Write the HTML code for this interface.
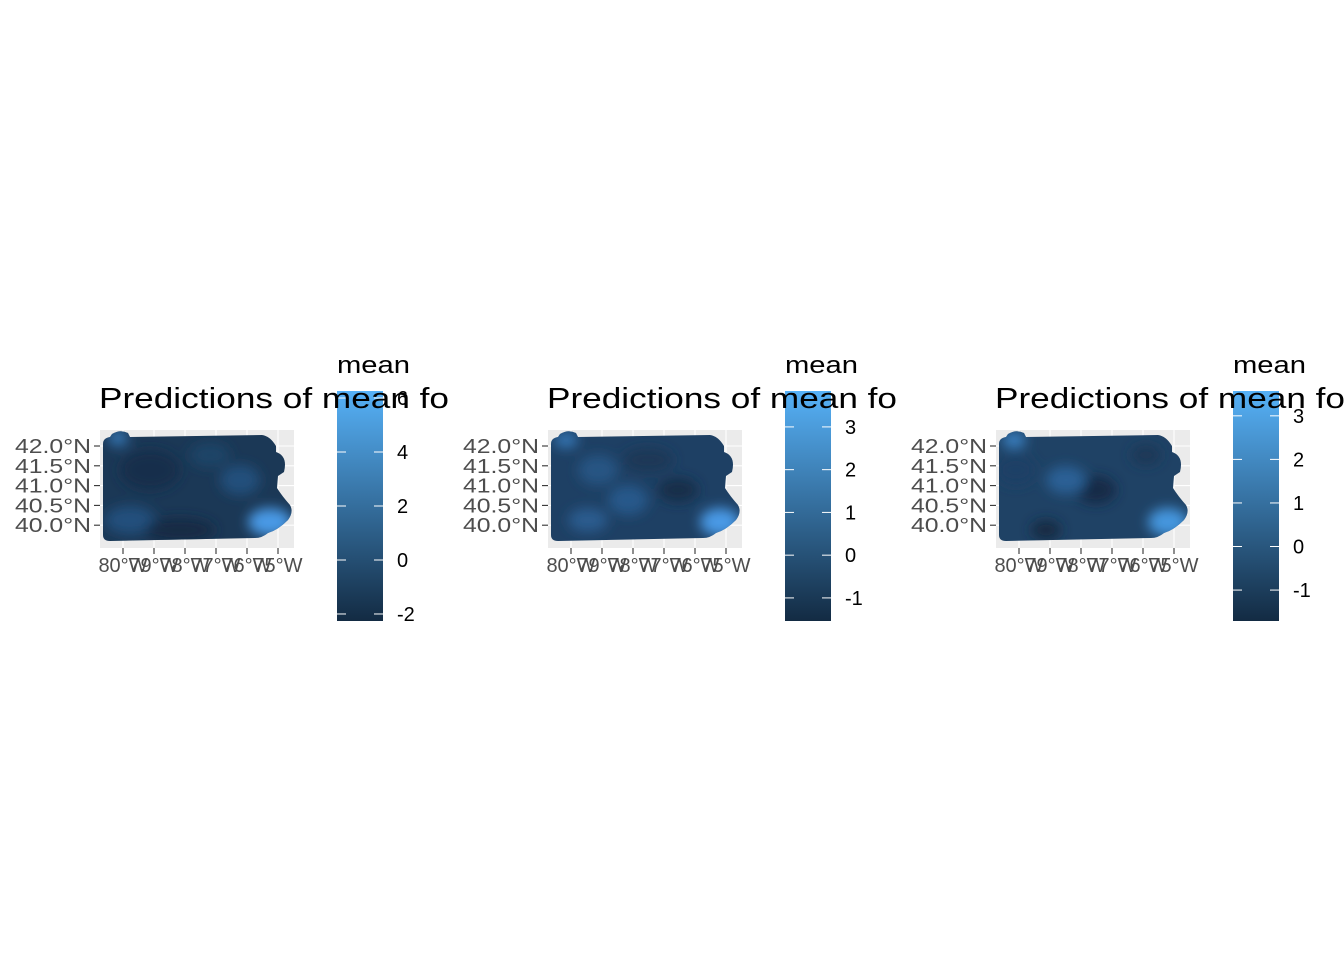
<!DOCTYPE html>
<html><head><meta charset="utf-8"><style>
body{margin:0;background:#fff;}
svg{display:block;font-family:"Liberation Sans",Arial,sans-serif;}
</style></head><body>
<svg id="c" width="1344" height="960" viewBox="0 0 1344 960">
<defs>
<linearGradient id="lg" x1="0" y1="1" x2="0" y2="0">
<stop offset="0" stop-color="#132B43"/><stop offset="1" stop-color="#56B1F7"/>
</linearGradient>
<filter id="bl" x="-20%" y="-20%" width="140%" height="140%"><feGaussianBlur stdDeviation="6"/></filter>
<clipPath id="pa"><path d="M103,444 Q103,438 110,437 L112,434 Q120,429 128,433 L130,437 L262,435 Q270,436 276,446 L276,452 Q288,456 284,472 L278,476 L277,488 Q282,496 290,505 Q294,512 288,520 Q278,530 268,533 Q262,538 255,538 L110,541 Q103,541 103,535 Z"/></clipPath>
</defs>
</svg>
<script>
const panelOffsets=[0,448,896];
const legendTicks=[[6,4,2,0,-2],[3,2,1,0,-1],[3,2,1,0,-1]];
const legendMin=[-2.26,-1.54,-1.71];
const legendMax=[6.26,3.84,3.57];
const latTicks=[42.0,41.5,41.0,40.5,40.0];
const lonTicks=[80,79,78,77,76,75];
const baseColors=['#1b3856','#1e4064','#1f4265'];
const blobs=[
 [[270,522,22,14,'#4a9ae6'],[118,438,10,8,'#3576b4'],[130,520,25,14,'#24507d'],[240,480,20,15,'#24507c'],[150,470,30,20,'#172f4b'],[180,530,35,12,'#142a44'],[210,455,20,12,'#1f4468']],
 [[272,522,20,14,'#4a9ae6'],[118,440,12,8,'#3576b4'],[180,500,20,15,'#28598a'],[230,490,20,12,'#162d48'],[140,520,20,12,'#2a5c8e'],[200,460,25,12,'#1a3756'],[150,470,20,15,'#265583']],
 [[272,522,20,14,'#4596de'],[118,440,12,8,'#3a82c4'],[200,490,20,14,'#152c46'],[170,480,20,14,'#2b6195'],[150,530,15,10,'#132b43'],[120,470,20,15,'#1d4066'],[250,455,15,10,'#1a3757']]
];
const svg=document.getElementById('c');
const NS='http://www.w3.org/2000/svg';
function mk(tag,attrs,parent){const e=document.createElementNS(NS,tag);for(const k in attrs)e.setAttribute(k,attrs[k]);parent.appendChild(e);return e;}
function yLat(v){return 446+(42-v)*39.6;}
function xLon(v){return 123+(80-v)*31;}
panelOffsets.forEach((off,i)=>{
 const g=mk('g',{transform:'translate('+off+',0)'},svg);
 
 
 const bg=mk('rect',{x:100,y:430,width:194,height:118,fill:'#EBEBEB'},g);
 
 
 latTicks.forEach(v=>{const y=yLat(v);mk('line',{x1:100,x2:294,y1:y,y2:y,stroke:'#fff','stroke-width':1.1},g);
  mk('line',{x1:94,x2:100,y1:y,y2:y,stroke:'#333','stroke-width':1.1},g);
  const t=mk('text',{x:91,y:y+7,'text-anchor':'end','font-size':20,fill:'#4D4D4D',textLength:76,lengthAdjust:'spacingAndGlyphs'},g);t.textContent=v.toFixed(1)+'°N';
  
  });
 lonTicks.forEach(v=>{const x=xLon(v);mk('line',{x1:x,x2:x,y1:430,y2:548,stroke:'#fff','stroke-width':1.1},g);
  mk('line',{x1:x,x2:x,y1:548,y2:554,stroke:'#333','stroke-width':1.1},g);
  const t=mk('text',{x:x,y:572,'text-anchor':'middle','font-size':20,fill:'#4D4D4D'},g);t.textContent=v+'°W';
  
  });
 const m=mk('g',{'clip-path':'url(#pa)'},g);
 
 
 mk('rect',{x:95,y:425,width:205,height:125,fill:baseColors[i]},m);
 const bg2=mk('g',{filter:'url(#bl)'},m);
 blobs[i].forEach(b=>mk('ellipse',{cx:b[0],cy:b[1],rx:b[2],ry:b[3],fill:b[4]},bg2));
 const lt=mk('text',{x:337,y:373,'font-size':24,fill:'#000',textLength:73,lengthAdjust:'spacingAndGlyphs'},g);lt.textContent='mean';
 
 
 const bar=mk('rect',{x:337,y:391,width:46,height:230,fill:'url(#lg)'},g);
 
 
 const lo=legendMin[i],hi=legendMax[i];
 legendTicks[i].forEach(v=>{const y=621-(v-lo)/(hi-lo)*230;
  mk('line',{x1:337,x2:346,y1:y,y2:y,stroke:'#fff','stroke-width':1},g);
  mk('line',{x1:374,x2:383,y1:y,y2:y,stroke:'#fff','stroke-width':1},g);
  const t=mk('text',{x:397,y:y+7,'font-size':20,fill:'#000'},g);t.textContent=v;
  
  });
 const title=mk('text',{x:99,y:408,'font-size':29,fill:'#000',textLength:350,lengthAdjust:'spacingAndGlyphs'},g);title.textContent='Predictions of mean fo';
 
 
});
</script>
</body></html>
